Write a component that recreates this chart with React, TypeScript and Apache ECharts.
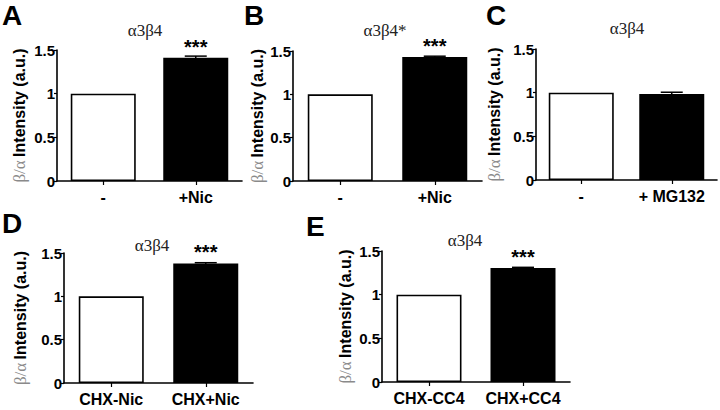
import React, { useEffect, useRef } from "react";
import * as echarts from "echarts";

// ---- data ----
const panelLetters = ["A", "B", "C", "D", "E"];
const panelTitles = ["α3β4", "α3β4*", "α3β4", "α3β4", "α3β4"];

const catsA = ["-", "+Nic"];
const catsB = ["-", "+Nic"];
const catsC = ["-", "+ MG132"];
const catsD = ["CHX-Nic", "CHX+Nic"];
const catsE = ["CHX-CC4", "CHX+CC4"];

const valsA = [1, 1.41];
const valsB = [1, 1.43];
const valsC = [1, 0.985];
const valsD = [1, 1.38];
const valsE = [1, 1.305];

const errA = [0, 0.02];
const errB = [0, 0.01];
const errC = [0, 0.02];
const errD = [0, 0.008];
const errE = [0, 0.008];

const starsA = ["", "***"];
const starsB = ["", "***"];
const starsC = ["", ""];
const starsD = ["", "***"];
const starsE = ["", "***"];

const yMin = 0;
const yMax = 1.5;
const yStep = 0.5;

// ---- layout (pixels) ----
const grids = [
  { left: 57, top: 50, width: 185, height: 131, nameGap: 29 },
  { left: 293, top: 51, width: 189, height: 130, nameGap: 27 },
  { left: 536, top: 49, width: 181, height: 131, nameGap: 33 },
  { left: 64, top: 253, width: 189, height: 130, nameGap: 35 },
  { left: 382, top: 251, width: 188, height: 131, nameGap: 28 },
];
const letterPos = [
  [2, 15],
  [244, 15],
  [486, 15],
  [2, 223],
  [306, 226],
];
const titlePos = [
  [145, 30],
  [385, 30],
  [627, 28],
  [152, 245],
  [465, 240],
];

const SANS = "'Liberation Sans', Arial, Helvetica, sans-serif";
const SERIF = "'Liberation Serif', 'Times New Roman', serif";

const panels = [
  { cats: catsA, vals: valsA, errs: errA, stars: starsA },
  { cats: catsB, vals: valsB, errs: errB, stars: starsB },
  { cats: catsC, vals: valsC, errs: errC, stars: starsC },
  { cats: catsD, vals: valsD, errs: errD, stars: starsD },
  { cats: catsE, vals: valsE, errs: errE, stars: starsE },
];

export default function App() {
  const ref = useRef<HTMLDivElement>(null);

  useEffect(() => {
    if (!ref.current) return;
    const chart = echarts.init(ref.current, undefined, { renderer: "svg" });

    const grid = grids.map((g) => ({
      left: g.left,
      top: g.top,
      width: g.width,
      height: g.height,
      containLabel: false,
    }));

    const xAxis = panels.map((p, i) => ({
      type: "category",
      gridIndex: i,
      data: p.cats,
      axisLine: { show: true, lineStyle: { color: "#000", width: 1.6 } },
      axisTick: { show: true, alignWithLabel: true, length: 4, lineStyle: { color: "#000", width: 1.2 } },
      axisLabel: {
        interval: 0,
        hideOverlap: false,
        color: "#000",
        fontFamily: SANS,
        fontWeight: "bold",
        fontSize: 16,
        margin: 8,
      },
      splitLine: { show: false },
    }));

    const yAxis = panels.map((p, i) => ({
      type: "value",
      gridIndex: i,
      min: yMin,
      max: yMax,
      interval: yStep,
      name: "{g|β/α} {b|Intensity (a.u.)}",
      nameLocation: "middle",
      nameRotate: 90,
      nameGap: grids[i].nameGap,
      nameTextStyle: {
        rich: {
          g: { fontFamily: SERIF, fontSize: 17, color: "#8a8a8a" },
          b: { fontFamily: SANS, fontSize: 16, fontWeight: "bold", color: "#000" },
        },
      },
      axisLine: { show: true, lineStyle: { color: "#000", width: 1.6 } },
      axisTick: { show: true, length: 3, lineStyle: { color: "#000", width: 1.2 } },
      axisLabel: {
        color: "#000",
        fontFamily: SANS,
        fontWeight: "bold",
        fontSize: 15,
        margin: 2,
      },
      splitLine: { show: false },
    }));

    const series: any[] = [];
    panels.forEach((p, i) => {
      series.push({
        type: "bar",
        xAxisIndex: i,
        yAxisIndex: i,
        barWidth: 65,
        data: p.vals.map((v, j) => ({
          value: v,
          itemStyle:
            j === 0
              ? { color: "#fff", borderColor: "#000", borderWidth: 1.6 }
              : { color: "#000", borderColor: "#000", borderWidth: 0 },
          label: {
            show: !!p.stars[j],
            position: "top",
            formatter: p.stars[j] || "",
            distance: 1,
            fontSize: 20,
            fontWeight: "bold",
            fontFamily: SANS,
            color: "#000",
          },
        })),
      });
      series.push({
        type: "custom",
        xAxisIndex: i,
        yAxisIndex: i,
        z: 5,
        encode: { x: 0, y: 1 },
        data: p.vals.map((v, j) => [j, v, p.errs[j]]).filter((d) => d[2] > 0),
        renderItem: (params: any, api: any) => {
          const idx = api.value(0);
          const mean = api.value(1);
          const err = api.value(2);
          const top = api.coord([idx, mean + err]);
          const base = api.coord([idx, mean - err]);
          const half = 11;
          const style = { stroke: "#000", lineWidth: 1.5 };
          return {
            type: "group",
            children: [
              { type: "line", shape: { x1: top[0], y1: base[1], x2: top[0], y2: top[1] }, style },
              { type: "line", shape: { x1: top[0] - half, y1: top[1], x2: top[0] + half, y2: top[1] }, style },
            ],
          };
        },
      });
    });

    const graphic: any[] = [];
    panelLetters.forEach((l, i) => {
      graphic.push({
        type: "text",
        x: letterPos[i][0],
        y: letterPos[i][1],
        style: {
          text: l,
          font: `bold 28px ${SANS}`,
          fill: "#000",
          textAlign: "left",
          textVerticalAlign: "middle",
        },
      });
    });
    panelTitles.forEach((t, i) => {
      graphic.push({
        type: "text",
        x: titlePos[i][0],
        y: titlePos[i][1],
        style: {
          text: t,
          font: `17px ${SERIF}`,
          fill: "#222",
          textAlign: "center",
          textVerticalAlign: "middle",
        },
      });
    });

    chart.setOption({
      animation: false,
      backgroundColor: "#fff",
      grid,
      xAxis,
      yAxis,
      series,
      graphic,
    } as any);

    return () => chart.dispose();
  }, []);

  return (
    <div
      ref={ref}
      style={{ position: "fixed", left: 0, top: 0, width: 720, height: 410, background: "#fff" }}
    />
  );
}
